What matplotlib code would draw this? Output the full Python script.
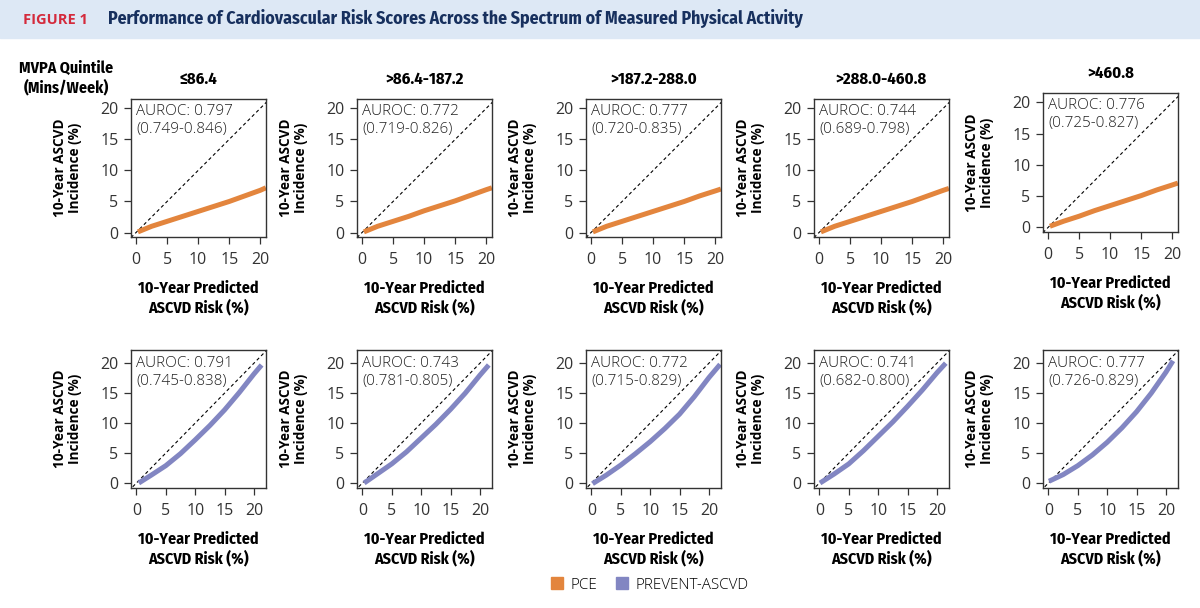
import numpy as np
import matplotlib.pyplot as plt
from matplotlib.patches import Rectangle, Patch

# MVPA quintile groups (mins/week)
quintiles = ["\u226486.4", ">86.4-187.2", ">187.2-288.0", ">288.0-460.8", ">460.8"]

pce_auroc = ["AUROC: 0.797\n(0.749-0.846)", "AUROC: 0.772\n(0.719-0.826)",
             "AUROC: 0.777\n(0.720-0.835)", "AUROC: 0.744\n(0.689-0.798)",
             "AUROC: 0.776\n(0.725-0.827)"]
prev_auroc = ["AUROC: 0.791\n(0.745-0.838)", "AUROC: 0.743\n(0.781-0.805)",
              "AUROC: 0.772\n(0.715-0.829)", "AUROC: 0.741\n(0.682-0.800)",
              "AUROC: 0.777\n(0.726-0.829)"]

pce_x = [
    [0.3, 2.5, 5, 7.5, 10, 12.5, 15, 17.5, 20, 20.9],
    [0.3, 2.5, 5, 7.5, 10, 12.5, 15, 17.5, 20, 20.9],
    [0.3, 2.5, 5, 7.5, 10, 12.5, 15, 17.5, 20, 20.9],
    [0.3, 2.5, 5, 7.5, 10, 12.5, 15, 17.5, 20, 20.9],
    [0.3, 2.5, 5, 7.5, 10, 12.5, 15, 17.5, 20, 20.9],
]
pce_y = [
    [0.1, 1.0, 1.8, 2.6, 3.4, 4.2, 5.0, 5.9, 6.8, 7.2],
    [0.1, 1.0, 1.8, 2.6, 3.5, 4.3, 5.1, 6.0, 6.9, 7.2],
    [0.1, 1.0, 1.8, 2.6, 3.4, 4.2, 5.0, 5.9, 6.7, 7.0],
    [0.1, 1.0, 1.8, 2.6, 3.4, 4.2, 5.0, 5.9, 6.8, 7.1],
    [0.2, 1.0, 1.8, 2.7, 3.5, 4.3, 5.1, 6.0, 6.8, 7.1],
]
prev_x = [
    [0.4, 2.5, 5, 7.5, 10, 12.5, 15, 17.5, 20, 21.3],
    [0.3, 2.5, 5, 7.5, 10, 12.5, 15, 17.5, 20, 21.5],
    [0.2, 2.5, 5, 7.5, 10, 12.5, 15, 17.5, 20, 21.9],
    [0.1, 2.5, 5, 7.5, 10, 12.5, 15, 17.5, 20, 21.5],
    [0.1, 2.5, 5, 7.5, 10, 12.5, 15, 17.5, 20, 21.2],
]
prev_y = [
    [0.0, 1.3, 2.9, 4.9, 7.2, 9.6, 12.2, 15.1, 18.2, 19.7],
    [0.0, 1.5, 3.2, 5.2, 7.5, 9.8, 12.3, 15.0, 18.0, 19.7],
    [-0.1, 1.3, 3.0, 4.9, 6.9, 9.1, 11.5, 14.4, 17.6, 19.8],
    [0.0, 1.5, 3.2, 5.4, 7.8, 10.2, 12.8, 15.5, 18.4, 20.0],
    [0.3, 1.4, 2.9, 4.7, 6.8, 9.2, 11.9, 15.0, 18.5, 20.4],
]

ticks = [0, 5, 10, 15, 20]

PCE_COL = "#e3853d"
PREV_COL = "#8286c2"
COND = ["Fira Sans Condensed", "DejaVu Sans"]
PLAIN = ["Open Sans", "DejaVu Sans"]

W, H = 1200, 608
fig = plt.figure(figsize=(W / 100, H / 100), dpi=100)


def px_axes(x0, y0, x1, y1):
    return fig.add_axes([x0 / W, 1 - y1 / H, (x1 - x0) / W, (y1 - y0) / H])


# header band
fig.patches.append(Rectangle((0, 1 - 38 / H), 1, 38 / H, transform=fig.transFigure,
                             color="#dde8f5", zorder=0))
fig.text(23 / W, 1 - 20 / H, "FIGURE 1", color="#d42a3c", fontsize=10.5,
         fontweight="bold", va="center", family=PLAIN)
fig.text(108 / W, 1 - 19 / H,
         "Performance of Cardiovascular Risk Scores Across the Spectrum of Measured Physical Activity",
         color="#17305e", fontsize=12.8, fontweight="bold", va="center", family=COND)

fig.text(66 / W, 1 - 78 / H, "MVPA Quintile\n(Mins/Week)", ha="center", va="center",
         fontsize=11.5, fontweight="bold", family=COND, linespacing=1.2)

lefts = [131, 357, 586, 814, 1043]
width = 135


def style(ax, xlim, ylim):
    ax.set_xlim(*xlim)
    ax.set_ylim(*ylim)
    ax.set_xticks(ticks)
    ax.set_yticks(ticks)
    ax.tick_params(direction="out", length=5, width=0.9, color="#333333",
                   labelsize=11.5, labelcolor="#333333", pad=4)
    ax.tick_params(axis="x", pad=6)
    for lab in ax.get_xticklabels() + ax.get_yticklabels():
        lab.set_family(PLAIN)
    for s in ax.spines.values():
        s.set_color("#333333")
        s.set_linewidth(1.0)
    ax.set_ylabel("10-Year ASCVD\nIncidence (%)", fontsize=9.8, fontweight="bold",
                  family=PLAIN, labelpad=13, linespacing=1.1)
    ax.set_xlabel("10-Year Predicted\nASCVD Risk (%)", fontsize=11.5, fontweight="bold",
                  family=COND, labelpad=9, linespacing=1.2)


for i in range(5):
    # top row: PCE
    top, bot = (99, 237) if i < 4 else (93, 232)
    ax = px_axes(lefts[i], top, lefts[i] + width, bot)
    xl, yl = (-0.81, 20.92), (-0.72, 21.5)
    ax.plot([-5, 30], [-5, 30], color="black", lw=0.8, dashes=(3, 2.5), zorder=1)
    ax.plot(pce_x[i], pce_y[i], color=PCE_COL, lw=3.6, solid_capstyle="butt", zorder=2)
    style(ax, xl, yl)
    ax.text(0.04, 0.965, pce_auroc[i], transform=ax.transAxes, va="top", ha="left",
            fontsize=11, fontweight=300, family=PLAIN, color="#222222", linespacing=1.25)
    ax.set_title(quintiles[i], fontsize=12, fontweight="bold", family=COND, pad=11)

    # bottom row: PREVENT-ASCVD
    ax = px_axes(lefts[i], 350, lefts[i] + width, 488)
    xl, yl = (-0.92, 22.05), (-0.83, 22.2)
    ax.plot([-5, 30], [-5, 30], color="black", lw=0.8, dashes=(3, 2.5), zorder=1)
    ax.plot(prev_x[i], prev_y[i], color=PREV_COL, lw=3.6, solid_capstyle="butt", zorder=2)
    style(ax, xl, yl)
    ax.text(0.04, 0.955, prev_auroc[i], transform=ax.transAxes, va="top", ha="left",
            fontsize=11, fontweight=300, family=PLAIN, color="#222222", linespacing=1.25)

handles = [Patch(color=PCE_COL, label="PCE"), Patch(color=PREV_COL, label="PREVENT-ASCVD")]
fig.legend(handles=handles, loc="center", bbox_to_anchor=(650 / W, 1 - 585 / H), ncol=2,
           frameon=False, handlelength=0.8, handleheight=0.8, handletextpad=0.5,
           columnspacing=1.2, prop={"family": PLAIN, "size": 11, "weight": 300})

fig.savefig("out.png", dpi=100)
